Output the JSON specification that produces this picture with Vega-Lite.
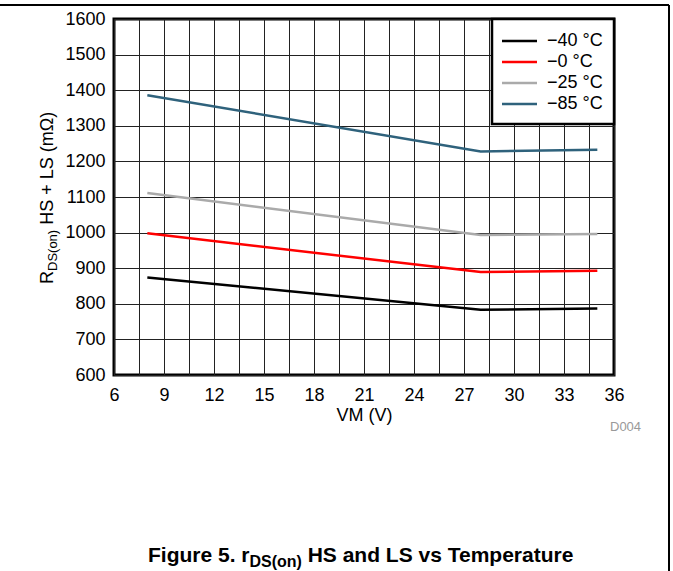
{
  "$schema": "https://vega.github.io/schema/vega-lite/v6.json",
  "autosize": {"type": "none"},
  "padding": {"left": 114, "top": 19, "right": 59, "bottom": 196},
  "width": 500,
  "height": 356,
  "background": "white",
  "config": {
    "font": "Liberation Sans",
    "view": {"stroke": "#000000", "strokeWidth": 3},
    "legend": {"strokeWidth": 2.5}
  },
  "resolve": {"axis": {"x": "independent", "y": "independent"}},
  "layer": [
    {
      "data": {
        "values": [
          {"VM": 8, "R": 874, "T": "−40 °C"},
          {"VM": 28, "R": 783, "T": "−40 °C"},
          {"VM": 35, "R": 787, "T": "−40 °C"},
          {"VM": 8, "R": 998, "T": "−0 °C"},
          {"VM": 28, "R": 889, "T": "−0 °C"},
          {"VM": 35, "R": 893, "T": "−0 °C"},
          {"VM": 8, "R": 1111, "T": "−25 °C"},
          {"VM": 28, "R": 993, "T": "−25 °C"},
          {"VM": 35, "R": 996, "T": "−25 °C"},
          {"VM": 8, "R": 1386, "T": "−85 °C"},
          {"VM": 28, "R": 1228, "T": "−85 °C"},
          {"VM": 35, "R": 1233, "T": "−85 °C"}
        ]
      },
      "mark": {"type": "line", "strokeWidth": 2.5},
      "encoding": {
        "x": {
          "field": "VM", "type": "quantitative",
          "scale": {"domain": [6, 36], "nice": false, "zero": false},
          "axis": {
            "values": [6, 7.5, 9, 10.5, 12, 13.5, 15, 16.5, 18, 19.5, 21, 22.5, 24, 25.5, 27, 28.5, 30, 31.5, 33, 34.5, 36],
            "labelExpr": "datum.value % 3 === 0 ? datum.label : ''",
            "format": "d",
            "grid": true, "gridColor": "#222222", "gridWidth": 1,
            "ticks": false, "domain": false,
            "labelFontSize": 18, "labelColor": "#000000", "labelPadding": 11,
            "labelFont": "Liberation Sans", "labelOverlap": false, "labelFlush": false,
            "title": "VM (V)", "titleFontSize": 18, "titleFontWeight": "normal",
            "titleColor": "#000000", "titlePadding": 2, "titleFont": "Liberation Sans"
          }
        },
        "y": {
          "field": "R", "type": "quantitative",
          "scale": {"domain": [600, 1600], "nice": false, "zero": false},
          "axis": {
            "values": [600, 700, 800, 900, 1000, 1100, 1200, 1300, 1400, 1500, 1600],
            "format": "d",
            "grid": true, "gridColor": "#222222", "gridWidth": 1,
            "ticks": false, "domain": false,
            "labelFontSize": 18, "labelColor": "#000000", "labelPadding": 9,
            "labelFont": "Liberation Sans", "labelOverlap": false, "labelFlush": false,
            "title": null
          }
        },
        "color": {
          "field": "T", "type": "nominal",
          "scale": {
            "domain": ["−40 °C", "−0 °C", "−25 °C", "−85 °C"],
            "range": ["#000000", "#ff0000", "#aaaaaa", "#2f627c"]
          },
          "legend": {
            "orient": "top-right", "offset": 0, "title": null,
            "fillColor": "#ffffff", "strokeColor": "#000000",
            "padding": 10.5,
            "symbolType": "M-1.75,0L1.75,0", "symbolSize": 400, "symbolStrokeWidth": 2.5,
            "symbolOffset": 5.5,
            "labelFontSize": 18, "labelFont": "Liberation Sans", "labelColor": "#000000",
            "labelOffset": 16, "rowPadding": 0, "labelLimit": 300
          }
        }
      }
    },
    {
      "data": {"values": [{}]},
      "mark": {"type": "rule", "color": "#000000", "strokeWidth": 2},
      "encoding": {
        "x": {"datum": -0.84, "type": "quantitative", "axis": null},
        "x2": {"datum": 39.3},
        "y": {"datum": 1639.3, "type": "quantitative", "axis": null}
      }
    },
    {
      "data": {"values": [{}]},
      "mark": {"type": "rule", "color": "#000000", "strokeWidth": 2},
      "encoding": {
        "x": {"datum": 39.3, "type": "quantitative", "axis": null},
        "y": {"datum": 1639.3, "type": "quantitative", "axis": null},
        "y2": {"datum": 0}
      }
    },
    {
      "data": {"values": [{}]},
      "mark": {"type": "text", "font": "Liberation Sans", "fontSize": 18, "angle": 270, "align": "left", "baseline": "alphabetic", "color": "#000000"},
      "encoding": {
        "x": {"datum": 2.34, "type": "quantitative", "axis": null},
        "y": {"datum": 855.6, "type": "quantitative", "axis": null},
        "text": {"value": "R"}
      }
    },
    {
      "data": {"values": [{}]},
      "mark": {"type": "text", "font": "Liberation Sans", "fontSize": 13, "angle": 270, "align": "left", "baseline": "alphabetic", "color": "#000000"},
      "encoding": {
        "x": {"datum": 2.58, "type": "quantitative", "axis": null},
        "y": {"datum": 892.1, "type": "quantitative", "axis": null},
        "text": {"value": "DS(on)"}
      }
    },
    {
      "data": {"values": [{}]},
      "mark": {"type": "text", "font": "Liberation Sans", "fontSize": 18, "angle": 270, "align": "left", "baseline": "alphabetic", "color": "#000000"},
      "encoding": {
        "x": {"datum": 2.34, "type": "quantitative", "axis": null},
        "y": {"datum": 1021.9, "type": "quantitative", "axis": null},
        "text": {"value": "HS + LS (mΩ)"}
      }
    },
    {
      "data": {"values": [{}]},
      "mark": {"type": "text", "font": "Liberation Sans", "fontSize": 21, "fontWeight": "bold", "align": "left", "baseline": "alphabetic", "color": "#000000"},
      "encoding": {
        "x": {"datum": 8.04, "type": "quantitative", "axis": null},
        "y": {"datum": 74.7, "type": "quantitative", "axis": null},
        "text": {"value": "Figure 5. r"}
      }
    },
    {
      "data": {"values": [{}]},
      "mark": {"type": "text", "font": "Liberation Sans", "fontSize": 16, "fontWeight": "bold", "align": "left", "baseline": "alphabetic", "color": "#000000"},
      "encoding": {
        "x": {"datum": 14.13, "type": "quantitative", "axis": null},
        "y": {"datum": 60.7, "type": "quantitative", "axis": null},
        "text": {"value": "DS(on)"}
      }
    },
    {
      "data": {"values": [{}]},
      "mark": {"type": "text", "font": "Liberation Sans", "fontSize": 21, "fontWeight": "bold", "align": "left", "baseline": "alphabetic", "color": "#000000"},
      "encoding": {
        "x": {"datum": 17.62, "type": "quantitative", "axis": null},
        "y": {"datum": 74.7, "type": "quantitative", "axis": null},
        "text": {"value": "HS and LS vs Temperature"}
      }
    },
    {
      "data": {"values": [{}]},
      "mark": {"type": "text", "font": "Liberation Sans", "fontSize": 13, "align": "left", "baseline": "alphabetic", "color": "#999999"},
      "encoding": {
        "x": {"datum": 35.76, "type": "quantitative", "axis": null},
        "y": {"datum": 442.7, "type": "quantitative", "axis": null},
        "text": {"value": "D004"}
      }
    }
  ]
}
